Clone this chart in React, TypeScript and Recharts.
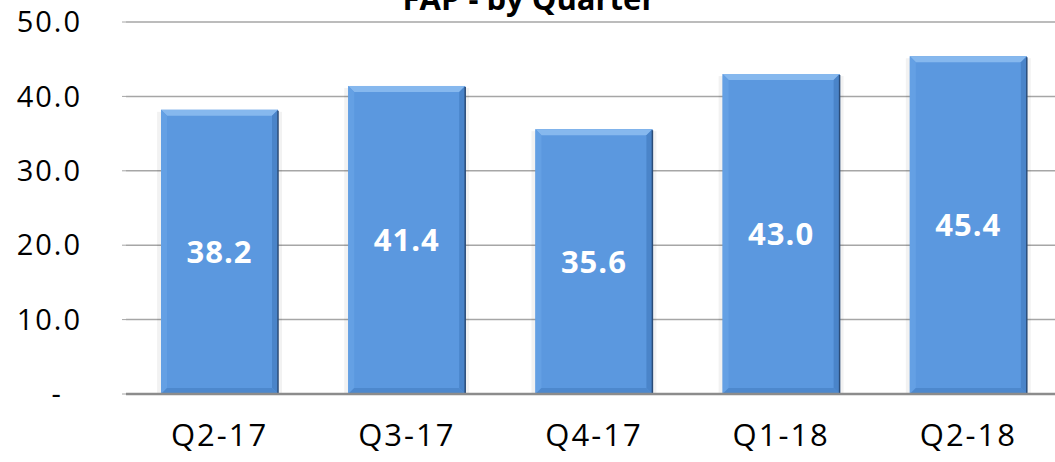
import React from "react";
import { BarChart, Bar, XAxis, YAxis, CartesianGrid, LabelList } from "recharts";

const categories = ["Q2-17", "Q3-17", "Q4-17", "Q1-18", "Q2-18"];
const values = [38.2, 41.4, 35.6, 43.0, 45.4];
const yTicks = [0, 10, 20, 30, 40, 50];
const title = "FAP - by Quarter";

const data = categories.map((q, i) => ({ q, v: values[i] }));

const FONT = "'Open Sans', 'DejaVu Sans', sans-serif";

const BevelBar = (props: any) => {
  const { x, y, width: w, height: h } = props;
  if (!w || !h) return null;
  const b = 6;
  return (
    <g>
      <rect x={x - 4} y={y + 2} width={w + 8} height={h - 2} fill="#000" opacity={0.05} />
      <rect x={x} y={y} width={w} height={h} fill="#5B98DF" />
      <polygon points={`${x},${y} ${x + w},${y} ${x + w - b},${y + b} ${x + b},${y + b}`} fill="#86B8EE" />
      <polygon points={`${x},${y} ${x + b},${y + b} ${x + b},${y + h - b} ${x},${y + h}`} fill="#64A0E4" />
      <polygon points={`${x + w},${y} ${x + w},${y + h} ${x + w - b},${y + h - b} ${x + w - b},${y + b}`} fill="#4A84C9" />
      <polygon points={`${x},${y + h} ${x + w},${y + h} ${x + w - b},${y + h - b} ${x + b},${y + h - b}`} fill="#4D88CD" />
      <line x1={x + w} y1={y + 1} x2={x + w} y2={y + h} stroke="#2B4C78" strokeWidth={1.5} />
    </g>
  );
};

export default function App() {
  return (
    <div style={{ position: "absolute", left: 0, top: 0, width: 1055, height: 462, overflow: "hidden", background: "#fff" }}>
      <BarChart
        width={1062}
        height={462}
        data={data}
        margin={{ top: 22, right: 0, bottom: 0, left: 0 }}
        barCategoryGap="18.7%"
      >
        <CartesianGrid vertical={false} stroke="#A6A6A6" strokeWidth={1.5} />
        <XAxis
          dataKey="q"
          height={68}
          axisLine={{ stroke: "#8C8C8C", strokeWidth: 2.5 }}
          tickLine={false}
          tickSize={0}
          tickMargin={30}
          tick={{ fill: "#000", fontSize: 31, fontFamily: FONT, letterSpacing: 2 }}
          interval={0}
        />
        <YAxis
          width={126}
          domain={[0, 50]}
          ticks={yTicks}
          axisLine={false}
          tickLine={{ stroke: "#A6A6A6" }}
          tickSize={4}
          tickMargin={40}
          tickFormatter={(v: number) => (v === 0 ? "-\u00A0\u00A0" : v.toFixed(1))}
          tick={{ fill: "#000", fontSize: 29, fontFamily: FONT, letterSpacing: 2 }}
        />
        <Bar dataKey="v" shape={<BevelBar />} isAnimationActive={false}>
          <LabelList
            dataKey="v"
            position="center"
            formatter={(v: any) => Number(v).toFixed(1)}
            style={{ fill: "#fff", fontSize: 31, fontWeight: 700, fontFamily: FONT, letterSpacing: 1 }}
          />
        </Bar>
      </BarChart>
      <svg width={1055} height={40} style={{ position: "absolute", left: 0, top: 0 }}>
        <text x={529} y={10} textAnchor="middle" fontFamily={FONT} fontSize={31} fontWeight={700} fill="#000">
          {title}
        </text>
      </svg>
    </div>
  );
}
